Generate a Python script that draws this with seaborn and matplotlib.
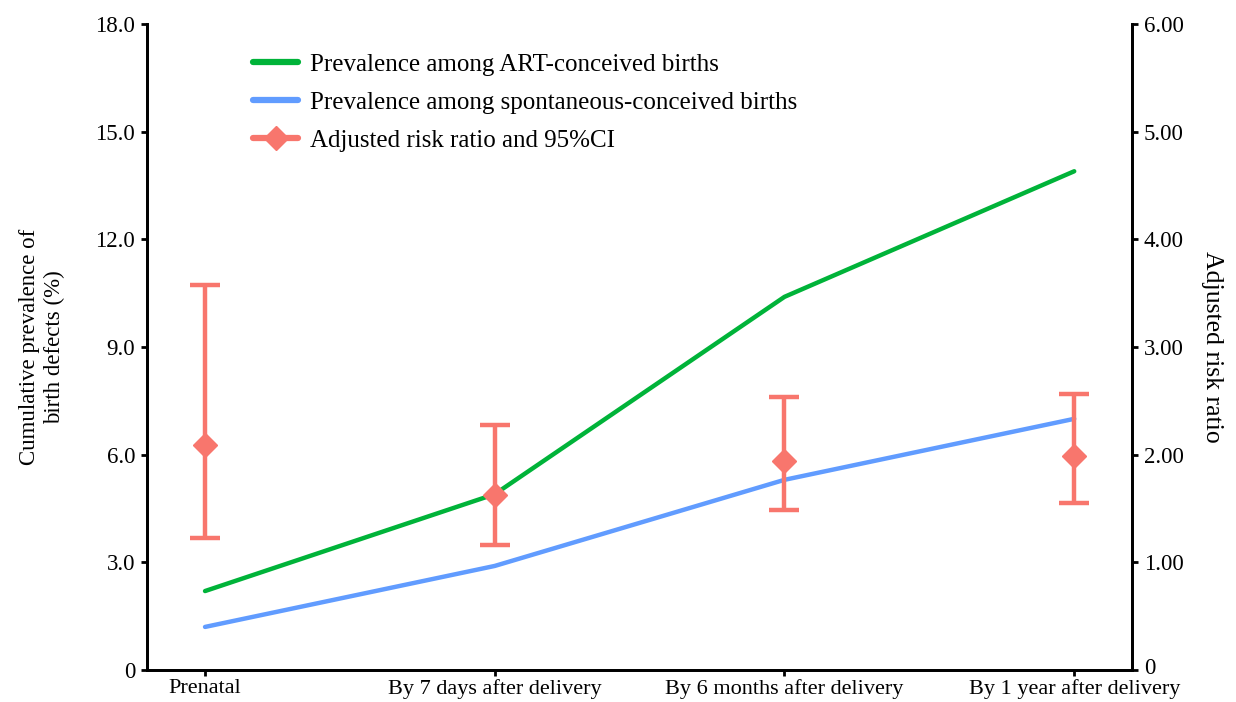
import numpy as np
import pandas as pd
import matplotlib
matplotlib.use("Agg")
import matplotlib.pyplot as plt
import seaborn as sns
from matplotlib.ticker import FuncFormatter
from matplotlib.lines import Line2D
from matplotlib.transforms import ScaledTranslation

categories = ["Prenatal", "By 7 days after delivery", "By 6 months after delivery", "By 1 year after delivery"]
art_prev = [2.2, 4.9, 10.4, 13.9]
spont_prev = [1.2, 2.9, 5.3, 7.0]
arr = [2.09, 1.63, 1.94, 1.99]
arr_low = [1.23, 1.16, 1.49, 1.55]
arr_high = [3.58, 2.28, 2.54, 2.56]

sns.set_theme(style="white")
plt.rcParams['font.family'] = ['Liberation Serif', 'DejaVu Serif']
plt.rcParams['text.color'] = 'black'
plt.rcParams['axes.labelcolor'] = 'black'

green = "#00B339"
blue = "#619CFF"
red = "#F8766D"

x = np.arange(len(categories))
df = pd.DataFrame({
    "x": np.concatenate([x, x]),
    "prev": art_prev + spont_prev,
    "group": ["Prevalence among ART-conceived births"] * len(x) +
             ["Prevalence among spontaneous-conceived births"] * len(x),
})

fig = plt.figure(figsize=(12.36, 7.02), dpi=100)
ax = fig.add_axes([0.119, 0.0456, 0.797, 0.92])
ax2 = ax.twinx()

sns.lineplot(data=df, x="x", y="prev", hue="group", palette=[green, blue],
             linewidth=3.2, ax=ax, legend=False, sort=False)

lo = np.array(arr) - np.array(arr_low)
hi = np.array(arr_high) - np.array(arr)
ax2.errorbar(x, arr, yerr=[lo, hi], fmt="D", color=red, ecolor=red,
             elinewidth=3.2, capsize=11, capthick=3.2, markersize=12,
             markeredgecolor=red)

ax.set_xlim(-0.2, 3.2)
ax.set_ylim(0, 18)
ax2.set_ylim(0, 6)
ax.set_yticks(np.arange(0, 18.1, 3))
ax2.set_yticks(np.arange(0, 6.1, 1))
ax.yaxis.set_major_formatter(FuncFormatter(lambda v, p: "0" if v == 0 else f"{v:.1f}"))
ax2.yaxis.set_major_formatter(FuncFormatter(lambda v, p: "0" if v == 0 else f"{v:.2f}"))
ax.set_xticks(x)
ax.set_xticklabels(categories)

for a in (ax, ax2):
    a.spines["top"].set_visible(False)
    for s in ("left", "right", "bottom"):
        a.spines[s].set_linewidth(2)
        a.spines[s].set_color("black")
    a.tick_params(axis="both", direction="out", length=4, width=2, labelsize=16.5,
                  colors="black", pad=4.5)
ax.tick_params(axis="x", pad=2.5, labelsize=16)
ax.tick_params(left=True, bottom=True)
ax2.tick_params(right=True)

# nudge the right-axis zero label slightly up so it clears the last category label
zero_lbl = ax2.yaxis.get_major_ticks()[0].label2
zero_lbl.set_transform(zero_lbl.get_transform() + ScaledTranslation(0, 4 / 100, fig.dpi_scale_trans))

ax.set_xlabel("")
ax.set_ylabel("Cumulative prevalence of\nbirth defects (%)", fontsize=16.5,
              labelpad=22, linespacing=1.25, color="black")
ax2.set_ylabel("Adjusted risk ratio", fontsize=18.5, rotation=270, labelpad=28,
               color="black")

handles = [
    Line2D([], [], color=green, lw=4.5),
    Line2D([], [], color=blue, lw=4.5),
    Line2D([], [], color=red, lw=4.5, marker="D", markersize=12, markeredgecolor=red),
]
labels = ["Prevalence among ART-conceived births",
          "Prevalence among spontaneous-conceived births",
          "Adjusted risk ratio and 95%CI"]
leg = ax.legend(handles, labels, loc="upper left", bbox_to_anchor=(0.085, 0.99),
                frameon=False, fontsize=18, handlelength=1.8, labelspacing=0.63,
                handletextpad=0.45, labelcolor="black")

fig.savefig("out.png", dpi=100)
